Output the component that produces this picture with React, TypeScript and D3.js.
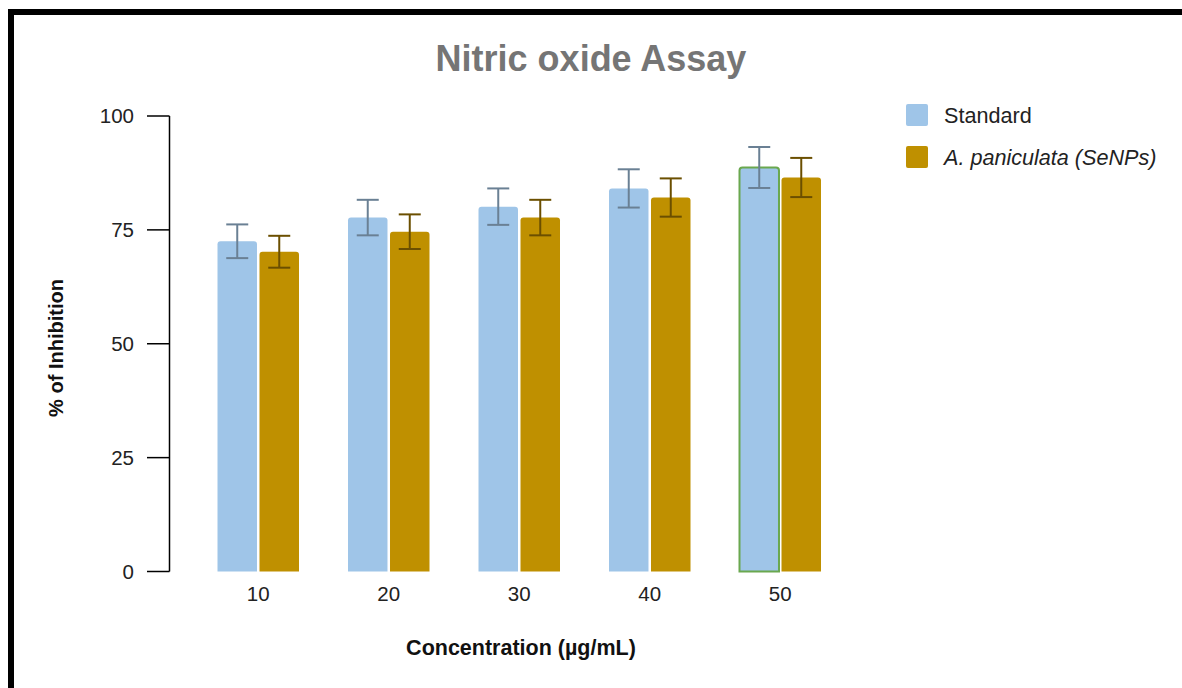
import React from "react";
import * as d3 from "d3";

const categories = ["10", "20", "30", "40", "50"];
const seriesNames = ["Standard", "A. paniculata (SeNPs)"];
const standardValues = [72.5, 77.7, 80.1, 84.1, 88.7];
const standardErrors = [3.7, 3.9, 4.0, 4.2, 4.5];
const senpsValues = [70.2, 74.6, 77.7, 82.1, 86.5];
const senpsErrors = [3.5, 3.8, 3.9, 4.2, 4.3];
const yTicks = [0, 25, 50, 75, 100];

const fills = ["#9fc5e8", "#bf9000"];
const errColors = ["#6a8094", "#6b4f00"];

export default function App() {
  const W = 1182, H = 688;
  const y = d3.scaleLinear().domain([0, 100]).range([571.5, 116]);
  const x = d3.scaleBand<string>().domain(categories).range([193, 845.5]).padding(0);
  const inner = d3.scaleBand<string>().domain(seriesNames).range([0, 81.5]).paddingInner(0.06);
  const values = [standardValues, senpsValues];
  const errors = [standardErrors, senpsErrors];
  const font = "'Liberation Sans', Arial, sans-serif";
  const groupOffset = (x.bandwidth() - 81.5) / 2;

  const roundedTop = (x0: number, y0: number, w: number, h: number, r: number) =>
    `M${x0},${y0 + h}V${y0 + r}Q${x0},${y0} ${x0 + r},${y0}H${x0 + w - r}Q${x0 + w},${y0} ${x0 + w},${y0 + r}V${y0 + h}Z`;

  return (
    <svg width={W} height={H} style={{ position: "absolute", left: 0, top: 0, background: "#fff" }} fontFamily={font}>
      <rect x={0} y={0} width={W} height={H} fill="#fff" />
      <rect x={11} y={12} width={1300} height={800} fill="none" stroke="#000" strokeWidth={6} />
      <text x={591} y={71} textAnchor="middle" fontSize={36} fontWeight="bold" fill="#757575">Nitric oxide Assay</text>

      {/* y axis */}
      <line x1={169.5} x2={169.5} y1={y(100)} y2={y(0)} stroke="#000" strokeWidth={1.5} />
      {yTicks.map((t) => (
        <g key={t}>
          <line x1={147} x2={169.5} y1={y(t)} y2={y(t)} stroke="#000" strokeWidth={1.5} />
          <text x={134} y={y(t)} dy="0.35em" textAnchor="end" fontSize={20.5} fill="#222">{t}</text>
        </g>
      ))}
      <text transform={`translate(63,${348}) rotate(-90)`} textAnchor="middle" fontSize={20} fontWeight="bold" fill="#111">% of Inhibition</text>

      {/* bars */}
      {categories.map((c, i) => (
        <g key={c}>
          {seriesNames.map((s, k) => {
            const bx = (x(c) as number) + groupOffset + (inner(s) as number);
            const bw = inner.bandwidth();
            const v = values[k][i];
            const e = errors[k][i];
            const cx = bx + bw / 2;
            const highlight = k === 0 && i === categories.length - 1;
            return (
              <g key={s}>
                <path d={roundedTop(bx, y(v), bw, y(0) - y(v), 3)} fill={fills[k]}
                  stroke={highlight ? "#6aa84f" : "none"} strokeWidth={highlight ? 2 : 0} />
                <line x1={cx} x2={cx} y1={y(v + e)} y2={y(v - e)} stroke={errColors[k]} strokeWidth={2} />
                <line x1={cx - 11} x2={cx + 11} y1={y(v + e)} y2={y(v + e)} stroke={errColors[k]} strokeWidth={2} />
                <line x1={cx - 11} x2={cx + 11} y1={y(v - e)} y2={y(v - e)} stroke={errColors[k]} strokeWidth={2} />
              </g>
            );
          })}
          <text x={(x(c) as number) + x.bandwidth() / 2} y={600.5} textAnchor="middle" fontSize={20.5} fill="#222">{c}</text>
        </g>
      ))}

      <text x={521} y={655} textAnchor="middle" fontSize={21.5} fontWeight="bold" fill="#111">Concentration (µg/mL)</text>

      {/* legend */}
      {seriesNames.map((s, k) => (
        <g key={s} transform={`translate(906,${104 + k * 42})`}>
          <rect x={0} y={0} width={22} height={22} rx={2} fill={fills[k]} />
          <text x={38} y={11} dy="0.35em" fontSize={21.6} fill="#222" fontStyle={k === 1 ? "italic" : "normal"}>{s}</text>
        </g>
      ))}
    </svg>
  );
}
